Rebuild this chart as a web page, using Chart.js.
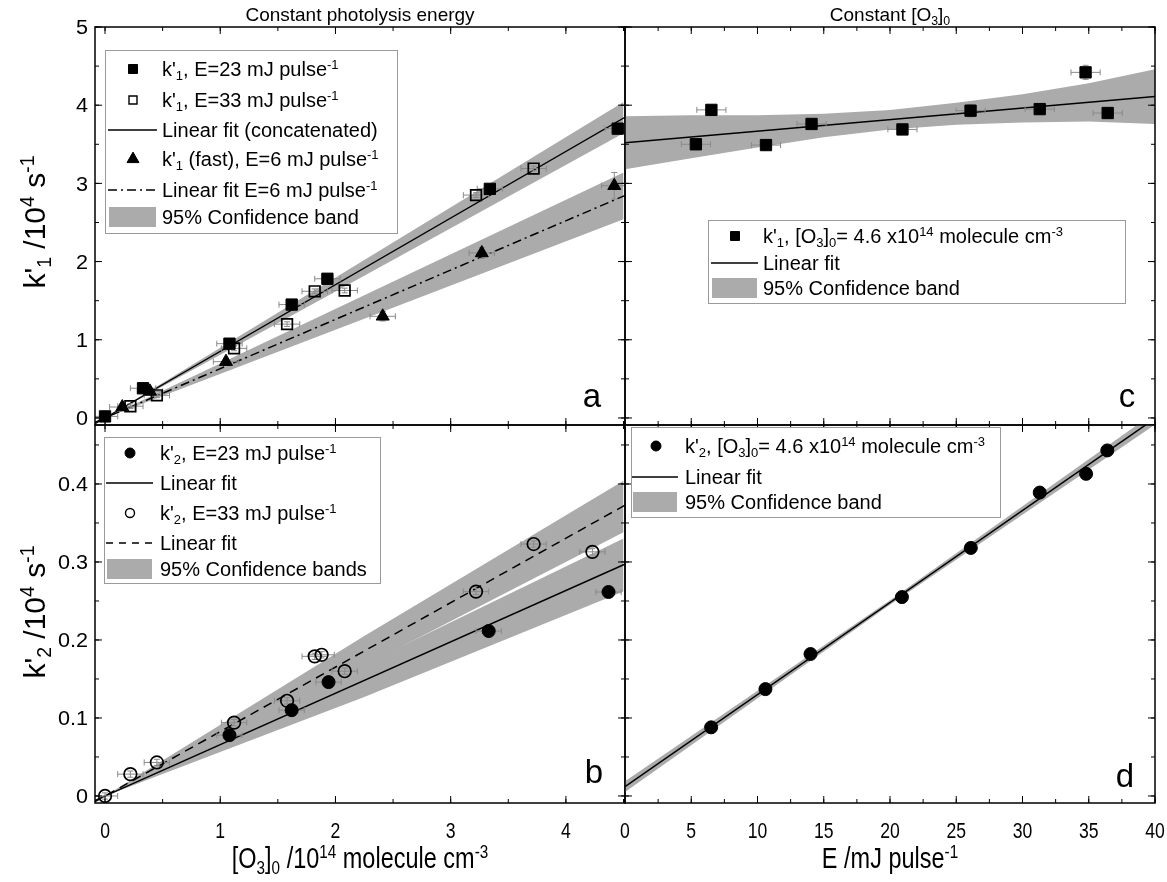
<!DOCTYPE html>
<html lang="en">
<head>
<meta charset="UTF-8">
<title>k'1 and k'2 versus [O3]0 and E</title>
<script src="https://cdn.jsdelivr.net/npm/chart.js"></script>
<style>
  html, body { margin: 0; padding: 0; background: #fff; }
  #wrap { position: relative; width: 1167px; height: 882px; }
  #wrap canvas { position: absolute; left: 0; top: 0; }
</style>
</head>
<body>
<div id="wrap">
  <canvas id="pa" width="1167" height="882"></canvas>
  <canvas id="pb" width="1167" height="882"></canvas>
  <canvas id="pc" width="1167" height="882"></canvas>
  <canvas id="pd" width="1167" height="882"></canvas>
</div>
<script>
// ---- panel a : k'1 vs [O3]0 ----
const aSq23X = [0.00, 0.33, 1.08, 1.62, 1.93, 3.34, 4.45];
const aSq23Y = [0.02, 0.38, 0.95, 1.45, 1.78, 2.93, 3.70];
const aSq33X = [0.22, 0.45, 1.12, 1.58, 1.82, 2.08, 3.22, 3.72];
const aSq33Y = [0.15, 0.29, 0.89, 1.20, 1.62, 1.63, 2.85, 3.19];
const aTriX = [0.15, 0.39, 1.05, 2.41, 3.27, 4.42];
const aTriY = [0.14, 0.34, 0.72, 1.30, 2.11, 2.97];
const aTriYErr = [0.02, 0.03, 0.04, 0.06, 0.07, 0.17];
const aFitX = [-0.1, 4.6];
const aFit1Y = [-0.085, 3.92];
const aFit2Y = [-0.063, 2.90];
const aBandX = [-0.1, 0, 2.25, 4.5];
const aBand1Hi = [-0.081, 0, 2.02, 4.04];
const aBand1Lo = [-0.089, 0, 1.82, 3.64];
const aBand2Hi = [-0.057, 0, 1.57, 3.14];
const aBand2Lo = [-0.069, 0, 1.27, 2.54];

// ---- panel b : k'2 vs [O3]0 ----
const bCi23X = [1.08, 1.62, 1.94, 3.33, 4.37];
const bCi23Y = [0.078, 0.110, 0.146, 0.2115, 0.2615];
const bCi33X = [0.00, 0.22, 0.45, 1.12, 1.58, 1.82, 1.88, 2.08, 3.22, 3.72, 4.23];
const bCi33Y = [0.000, 0.028, 0.043, 0.094, 0.122, 0.179, 0.181, 0.160, 0.262, 0.323, 0.313];
const bFitX = [-0.1, 4.6];
const bFit1Y = [-0.0066, 0.303];
const bFit2Y = [-0.0083, 0.380];
const bBandX = [-0.1, 0, 2.25, 4.5];
const bBand1Hi = [-0.0058, 0, 0.169, 0.330];
const bBand1Lo = [-0.0074, 0, 0.127, 0.262];
const bBand2Hi = [-0.0075, 0, 0.205, 0.404];
const bBand2Lo = [-0.0091, 0, 0.167, 0.338];

// ---- panel c : k'1 vs E ----
const cE = [5.35, 6.52, 10.64, 14.08, 20.94, 26.08, 31.3, 34.76, 36.43];
const cK = [3.50, 3.94, 3.49, 3.76, 3.69, 3.93, 3.95, 4.42, 3.90];
const cKErr = [0.05, 0.06, 0.05, 0.07, 0.05, 0.08, 0.07, 0.09, 0.07];
const cFitX = [0, 40];
const cFitY = [3.52, 4.11];
const cBandX = [0, 5, 10, 15, 20, 25, 30, 35, 40];
const cBandHi = [3.86, 3.87, 3.87, 3.89, 3.94, 4.03, 4.14, 4.28, 4.46];
const cBandLo = [3.18, 3.32, 3.46, 3.59, 3.69, 3.75, 3.78, 3.79, 3.76];

// ---- panel d : k'2 vs E ----
const dE = [6.5, 10.6, 14.0, 20.9, 26.1, 31.3, 34.8, 36.4];
const dK = [0.088, 0.137, 0.182, 0.255, 0.318, 0.389, 0.413, 0.443];
const dFitX = [0, 40];
const dFitY = [0.012, 0.484];
const dBandX = [0, 20, 40];
const dBandHi = [0.019, 0.251, 0.492];
const dBandLo = [0.005, 0.245, 0.476];

// ---- tick labels ----
const o3Ticks = [0, 1, 2, 3, 4];
const eTicks = [0, 5, 10, 15, 20, 25, 30, 35, 40];
const k1Ticks = [0, 1, 2, 3, 4, 5];
const k2Ticks = [0, 0.1, 0.2, 0.3, 0.4];

const W = 1167, H = 882;
const FONT = '"Liberation Sans", Arial, sans-serif';
const GRAY = '#ababab';

function parseRich(str) {
  const out = []; let buf = '', i = 0;
  while (i < str.length) {
    const c = str[i];
    if ((c === '_' || c === '^') && str[i + 1] === '{') {
      if (buf) { out.push({ t: buf, m: 0 }); buf = ''; }
      const end = str.indexOf('}', i);
      out.push({ t: str.slice(i + 2, end), m: c === '_' ? 1 : 2 });
      i = end + 1;
    } else { buf += c; i++; }
  }
  if (buf) out.push({ t: buf, m: 0 });
  return out;
}

// y = middle of the capitals; sx squeezes the glyphs across their width
function richText(ctx, str, x, y, size, align, rot, sx) {
  const segs = parseRich(str);
  sx = sx || 1;
  let w = 0;
  segs.forEach(s => {
    ctx.font = (s.m ? size * 0.65 : size) + 'px ' + FONT;
    s.w = ctx.measureText(s.t).width; w += s.w;
  });
  let cx = align === 'center' ? -w / 2 : align === 'right' ? -w : 0;
  ctx.save();
  ctx.translate(x, y);
  if (rot) ctx.rotate(rot);
  ctx.scale(sx, 1);
  ctx.fillStyle = '#000'; ctx.textAlign = 'left'; ctx.textBaseline = 'alphabetic';
  segs.forEach(s => {
    ctx.font = (s.m ? size * 0.65 : size) + 'px ' + FONT;
    const dy = s.m === 1 ? size * 0.2 : s.m === 2 ? -size * 0.36 : 0;
    ctx.fillText(s.t, cx, size * 0.358 + dy);
    cx += s.w;
  });
  ctx.restore();
}

function marker(ctx, style, fill, r, x, y, lw) {
  ctx.save();
  ctx.beginPath();
  if (style === 'rect') ctx.rect(x - r, y - r, 2 * r, 2 * r);
  else if (style === 'circle') ctx.arc(x, y, r, 0, Math.PI * 2);
  else { ctx.moveTo(x, y - r * 1.15); ctx.lineTo(x + r, y + r * 0.6); ctx.lineTo(x - r, y + r * 0.6); ctx.closePath(); }
  ctx.lineWidth = lw || 1.5; ctx.strokeStyle = '#000';
  if (fill) { ctx.fillStyle = '#000'; ctx.fill(); }
  ctx.stroke();
  ctx.restore();
}

const pts = (xs, ys) => xs.map((x, i) => ({ x: x, y: ys[i] }));

function markers(xs, ys, style, filled, r, ex, ey) {
  return {
    data: pts(xs, ys), showLine: false, order: 1, marker: true, errX: ex, errY: ey,
    pointStyle: style, pointRadius: r, pointBorderWidth: filled ? 1 : 1.7,
    pointBackgroundColor: filled ? '#000' : 'rgba(0,0,0,0)', pointBorderColor: '#000'
  };
}
function fitLine(xs, ys, dash) {
  return {
    data: pts(xs, ys), showLine: true, order: 2, pointRadius: 0,
    borderColor: '#000', borderWidth: 1.5, borderDash: dash || [], fill: false
  };
}
function band(xs, hi, lo) {
  return [
    { data: pts(xs, hi), showLine: true, order: 3, pointRadius: 0, borderWidth: 0,
      borderColor: 'rgba(0,0,0,0)', backgroundColor: GRAY, fill: '+1' },
    { data: pts(xs, lo), showLine: true, order: 3, pointRadius: 0, borderWidth: 0,
      borderColor: 'rgba(0,0,0,0)', fill: false }
  ];
}

function errorBars(chart) {
  const { ctx, chartArea: ca } = chart;
  const xs = chart.scales.x, ys = chart.scales.y;
  ctx.save();
  ctx.beginPath(); ctx.rect(ca.left, ca.top, ca.width, ca.height); ctx.clip();
  ctx.strokeStyle = '#8a8a8a'; ctx.lineWidth = 1;
  chart.data.datasets.forEach(ds => {
    if (!ds.marker) return;
    ds.data.forEach((p, i) => {
      const ex = Array.isArray(ds.errX) ? ds.errX[i] : (ds.errX || 0);
      const ey = Array.isArray(ds.errY) ? ds.errY[i] : (ds.errY || 0);
      const px = xs.getPixelForValue(p.x), py = ys.getPixelForValue(p.y);
      ctx.beginPath();
      if (ex) {
        const l = xs.getPixelForValue(p.x - ex), r = xs.getPixelForValue(p.x + ex);
        ctx.moveTo(l, py); ctx.lineTo(r, py);
        ctx.moveTo(l, py - 3); ctx.lineTo(l, py + 3);
        ctx.moveTo(r, py - 3); ctx.lineTo(r, py + 3);
      }
      if (ey) {
        const t = ys.getPixelForValue(p.y + ey), b = ys.getPixelForValue(p.y - ey);
        ctx.moveTo(px, t); ctx.lineTo(px, b);
        ctx.moveTo(px - 3, t); ctx.lineTo(px + 3, t);
        ctx.moveTo(px - 3, b); ctx.lineTo(px + 3, b);
      }
      ctx.stroke();
    });
  });
  ctx.restore();
}

function steps(from, to, st) {
  const r = [];
  for (let k = 0; from + k * st <= to + 1e-9; k++) r.push(+(from + k * st).toFixed(6));
  return r;
}

function axesFrame(chart, P) {
  const { ctx, chartArea: ca } = chart;
  const xs = chart.scales.x, ys = chart.scales.y;
  ctx.save();
  ctx.strokeStyle = '#000'; ctx.lineWidth = 1;
  const seg = (x0, y0, x1, y1) => { ctx.beginPath(); ctx.moveTo(x0, y0); ctx.lineTo(x1, y1); ctx.stroke(); };
  const xt = (vals, len) => vals.forEach(v => {
    const p = xs.getPixelForValue(v);
    seg(p, ca.bottom, p, ca.bottom - len); seg(p, ca.top, p, ca.top + len);
  });
  const yt = (vals, len) => vals.forEach(v => {
    const p = ys.getPixelForValue(v);
    seg(ca.left, p, ca.left + len, p); seg(ca.right, p, ca.right - len, p);
  });
  xt(steps(P.x.minor[0], P.x.minor[1], P.x.minor[2]), 4);
  xt(P.x.ticks, 7);
  yt(steps(P.y.minor[0], P.y.minor[1], P.y.minor[2]), 4);
  yt(P.y.ticks, 7);
  ctx.lineWidth = 1.5;
  ctx.strokeRect(ca.left, ca.top, ca.width, ca.height);
  ctx.restore();

  if (P.yLabels) P.y.ticks.forEach(v => richText(ctx, String(v), ca.left - 7, ys.getPixelForValue(v), 20, 'right', 0, 1.08));
  if (P.xLabels) P.x.ticks.forEach(v => richText(ctx, String(v), xs.getPixelForValue(v), ca.bottom + 27, 22, 'center', 0, 0.8));
  (P.texts || []).forEach(t => richText(ctx, t.t, t.x, t.y, t.size, 'center', t.rot, t.sx));
}

function drawLegend(chart, L) {
  if (!L) return;
  const ctx = chart.ctx;
  ctx.save();
  ctx.fillStyle = '#fff'; ctx.strokeStyle = '#9a9a9a'; ctx.lineWidth = 1;
  ctx.fillRect(L.box[0], L.box[1], L.box[2], L.box[3]);
  ctx.strokeRect(L.box[0] + 0.5, L.box[1] + 0.5, L.box[2], L.box[3]);
  L.items.forEach(it => {
    if (it.kind === 'pt') marker(ctx, it.style, it.fill, it.r, L.sym, it.y, it.fill ? 1 : 1.4);
    else if (it.kind === 'line') {
      ctx.save(); ctx.strokeStyle = '#000'; ctx.lineWidth = 1.5; ctx.setLineDash(it.dash || []);
      ctx.beginPath(); ctx.moveTo(L.l0, it.y); ctx.lineTo(L.l1, it.y); ctx.stroke(); ctx.restore();
    } else {
      ctx.fillStyle = GRAY; ctx.fillRect(L.l0 + 1, it.y - 10, L.l1 - L.l0 - 2, 20);
    }
    richText(ctx, it.text, L.tx, it.y, 20, 'left');
  });
  ctx.restore();
}

function makePanel(id, P) {
  const deco = {
    id: 'deco',
    beforeDatasetsDraw(chart) { chart.$bars = false; },
    beforeDatasetDraw(chart, args) {
      if (!chart.$bars && chart.data.datasets[args.index].marker) { chart.$bars = true; errorBars(chart); }
    },
    afterDraw(chart) { axesFrame(chart, P); drawLegend(chart, P.legend); }
  };
  return new Chart(document.getElementById(id), {
    type: 'scatter',
    data: { datasets: P.datasets },
    options: {
      responsive: false, animation: false, events: [],
      layout: { padding: { left: P.area[0], top: P.area[1], right: W - P.area[2], bottom: H - P.area[3] } },
      plugins: { legend: { display: false }, tooltip: { enabled: false } },
      scales: {
        x: { type: 'linear', display: false, min: P.x.min, max: P.x.max },
        y: { type: 'linear', display: false, min: P.y.min, max: P.y.max }
      }
    },
    plugins: [deco]
  });
}

const xO3 = { min: -0.087, max: 4.513, ticks: o3Ticks, minor: [0, 4.5, 0.5] };
const xE = { min: 0, max: 40, ticks: eTicks, minor: [0, 40, 2.5] };
const yK1 = { min: -0.09, max: 5, ticks: k1Ticks, minor: [0, 5, 0.5] };
const yK2 = { min: -0.009, max: 0.4756, ticks: k2Ticks, minor: [0, 0.45, 0.05] };

makePanel('pa', {
  area: [95, 27, 625, 425], x: xO3, y: yK1, yLabels: true,
  datasets: [
    ...band(aBandX, aBand1Hi, aBand1Lo),
    ...band(aBandX, aBand2Hi, aBand2Lo),
    fitLine(aFitX, aFit1Y),
    fitLine(aFitX, aFit2Y, [9, 4, 2, 4]),
    markers(aSq23X, aSq23Y, 'rect', true, 8, 0.11, 0.03),
    markers(aSq33X, aSq33Y, 'rect', false, 7.5, 0.11, 0.03),
    markers(aTriX, aTriY, 'triangle', true, 7.5, 0.11, aTriYErr)
  ],
  texts: [
    { t: 'Constant photolysis energy', x: 360, y: 14, size: 19 },
    { t: "k'_{1} /10^{4} s^{-1}", x: 34, y: 222, size: 30, rot: -Math.PI / 2 },
    { t: 'a', x: 592, y: 395, size: 33 }
  ],
  legend: {
    box: [105, 50, 292, 183], sym: 133, l0: 108, l1: 157, tx: 162,
    items: [
      { y: 69, kind: 'pt', style: 'rect', fill: true, r: 4.5, text: "k'_{1}, E=23 mJ pulse^{-1}" },
      { y: 100, kind: 'pt', style: 'rect', fill: false, r: 4, text: "k'_{1}, E=33 mJ pulse^{-1}" },
      { y: 130, kind: 'line', text: 'Linear fit (concatenated)' },
      { y: 159, kind: 'pt', style: 'triangle', fill: true, r: 6, text: "k'_{1} (fast), E=6 mJ pulse^{-1}" },
      { y: 190, kind: 'line', dash: [9, 4, 2, 4], text: 'Linear fit E=6 mJ pulse^{-1}' },
      { y: 217, kind: 'band', text: '95% Confidence band' }
    ]
  }
});

makePanel('pb', {
  area: [95, 425, 625, 803], x: xO3, y: yK2, yLabels: true, xLabels: true,
  datasets: [
    ...band(bBandX, bBand1Hi, bBand1Lo),
    ...band(bBandX, bBand2Hi, bBand2Lo),
    fitLine(bFitX, bFit1Y),
    fitLine(bFitX, bFit2Y, [9, 6]),
    markers(bCi23X, bCi23Y, 'circle', true, 6.5, 0.11, 0.004),
    markers(bCi33X, bCi33Y, 'circle', false, 6.3, 0.11, 0.004)
  ],
  texts: [
    { t: "k'_{2} /10^{4} s^{-1}", x: 34, y: 612, size: 30, rot: -Math.PI / 2 },
    { t: '[O_{3}]_{0} /10^{14} molecule cm^{-3}', x: 360, y: 858, size: 29, sx: 0.81 },
    { t: 'b', x: 594, y: 771, size: 33 }
  ],
  legend: {
    box: [104, 437, 276, 146], sym: 130, l0: 106, l1: 153, tx: 160,
    items: [
      { y: 453, kind: 'pt', style: 'circle', fill: true, r: 5, text: "k'_{2}, E=23 mJ pulse^{-1}" },
      { y: 483, kind: 'line', text: 'Linear fit' },
      { y: 513, kind: 'pt', style: 'circle', fill: false, r: 4.5, text: "k'_{2}, E=33 mJ pulse^{-1}" },
      { y: 543, kind: 'line', dash: [7, 6], text: 'Linear fit' },
      { y: 569, kind: 'band', text: '95% Confidence bands' }
    ]
  }
});

makePanel('pc', {
  area: [625, 27, 1155, 425], x: xE, y: yK1,
  datasets: [
    ...band(cBandX, cBandHi, cBandLo),
    fitLine(cFitX, cFitY),
    markers(cE, cK, 'rect', true, 8, 1.1, cKErr)
  ],
  texts: [
    { t: 'Constant [O_{3}]_{0}', x: 890, y: 14, size: 19 },
    { t: 'c', x: 1127, y: 395, size: 33 }
  ],
  legend: {
    box: [708, 220, 417, 83], sym: 735, l0: 711, l1: 758, tx: 763,
    items: [
      { y: 236, kind: 'pt', style: 'rect', fill: true, r: 4.5, text: "k'_{1}, [O_{3}]_{0}= 4.6 x10^{14} molecule cm^{-3}" },
      { y: 263, kind: 'line', text: 'Linear fit' },
      { y: 288, kind: 'band', text: '95% Confidence band' }
    ]
  }
});

makePanel('pd', {
  area: [625, 425, 1155, 803], x: xE, y: yK2, xLabels: true,
  datasets: [
    ...band(dBandX, dBandHi, dBandLo),
    fitLine(dFitX, dFitY),
    markers(dE, dK, 'circle', true, 6.5)
  ],
  texts: [
    { t: 'E /mJ pulse^{-1}', x: 890, y: 858, size: 29, sx: 0.81 },
    { t: 'd', x: 1125, y: 775, size: 33 }
  ],
  legend: {
    box: [631, 427, 369, 90], sym: 656, l0: 632, l1: 678, tx: 685,
    items: [
      { y: 446, kind: 'pt', style: 'circle', fill: true, r: 5, text: "k'_{2}, [O_{3}]_{0}= 4.6 x10^{14} molecule cm^{-3}" },
      { y: 477, kind: 'line', text: 'Linear fit' },
      { y: 502, kind: 'band', text: '95% Confidence band' }
    ]
  }
});
</script>
</body>
</html>
